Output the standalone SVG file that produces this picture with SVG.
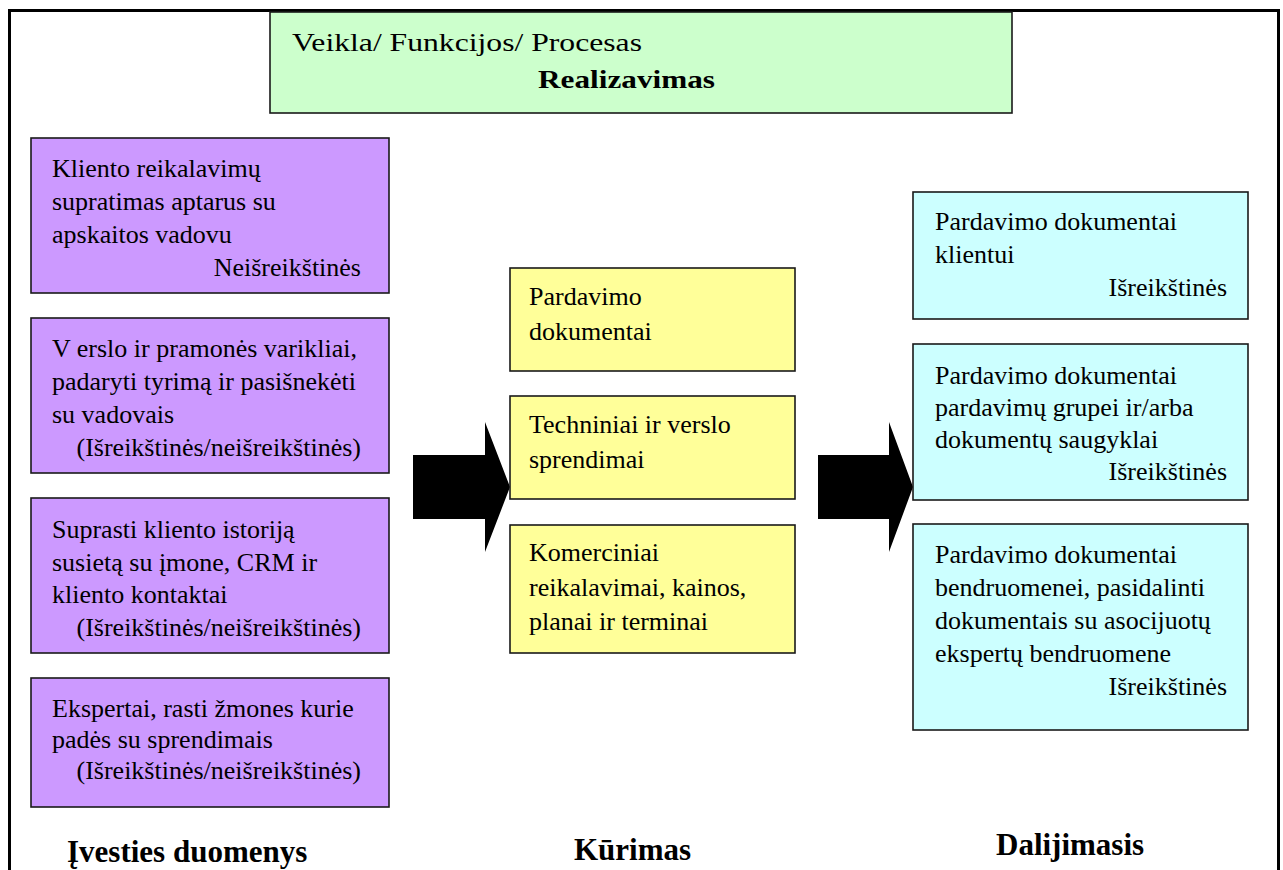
<svg xmlns="http://www.w3.org/2000/svg" width="1283" height="870" viewBox="0 0 1283 870">
  <style>
    .box { stroke: #1a1a1a; stroke-width: 1.6; }
    .green { fill: #CCFFCC; }
    .purple { fill: #CC99FF; }
    .yellow { fill: #FFFF99; }
    .cyan { fill: #CCFFFF; }
    .t { font-family: "Liberation Serif", "Times New Roman", serif; font-size: 26px; fill: #000; }
    .r { text-anchor: end; }
    .h { font-family: "Liberation Serif", "Times New Roman", serif; font-size: 31px; font-weight: bold; fill: #000; }
    .arrow { fill: #000; }
  </style>

  <rect x="0" y="0" width="1283" height="870" fill="#ffffff"/>

  <!-- outer frame, open at the bottom -->
  <path d="M9.5,872 V10.5 H1278.5 V872" fill="none" stroke="#000" stroke-width="3"/>

  <!-- block arrows between the columns -->
  <g id="connectors">
    <polygon class="arrow" points="413,455 485,455 485,422 510,487 485,552 485,519 413,519"/>
    <polygon class="arrow" points="818,455 889,455 889,422 913,487 889,552 889,519 818,519"/>
  </g>

  <!-- header -->
  <g id="header">
    <rect class="box green" x="270" y="12" width="742" height="101"/>
    <text class="t" x="292" y="51" font-size="28" textLength="350" lengthAdjust="spacingAndGlyphs">Veikla/ Funkcijos/ Procesas</text>
    <text class="t" x="538" y="88" font-size="28" font-weight="bold" textLength="177" lengthAdjust="spacingAndGlyphs">Realizavimas</text>
  </g>

  <!-- inputs column -->
  <g id="input-1">
    <rect class="box purple" x="31" y="138" width="358" height="155"/>
    <text class="t" x="52" y="177">Kliento reikalavimų</text>
    <text class="t" x="52" y="210">supratimas  aptarus su</text>
    <text class="t" x="52" y="243">apskaitos vadovu</text>
    <text class="t r" x="361" y="276">Neišreikštinės</text>
  </g>
  <g id="input-2">
    <rect class="box purple" x="31" y="318" width="358" height="155"/>
    <text class="t" x="52" y="357">V erslo ir pramonės varikliai,</text>
    <text class="t" x="52" y="390">padaryti tyrimą ir pasišnekėti</text>
    <text class="t" x="52" y="423">su vadovais</text>
    <text class="t r" x="361" y="456">(Išreikštinės/neišreikštinės)</text>
  </g>
  <g id="input-3">
    <rect class="box purple" x="31" y="498" width="358" height="155"/>
    <text class="t" x="52" y="538">Suprasti kliento istoriją</text>
    <text class="t" x="52" y="571">susietą su įmone, CRM ir</text>
    <text class="t" x="52" y="603">kliento kontaktai</text>
    <text class="t r" x="361" y="636">(Išreikštinės/neišreikštinės)</text>
  </g>
  <g id="input-4">
    <rect class="box purple" x="31" y="678" width="358" height="129"/>
    <text class="t" x="52" y="717">Ekspertai, rasti žmones kurie</text>
    <text class="t" x="52" y="748">padės su sprendimais</text>
    <text class="t r" x="361" y="779">(Išreikštinės/neišreikštinės)</text>
  </g>

  <!-- creation column -->
  <g id="create-1">
    <rect class="box yellow" x="510" y="268" width="285" height="103"/>
    <text class="t" x="529" y="305">Pardavimo</text>
    <text class="t" x="529" y="340">dokumentai</text>
  </g>
  <g id="create-2">
    <rect class="box yellow" x="510" y="396" width="285" height="103"/>
    <text class="t" x="529" y="433">Techniniai ir verslo</text>
    <text class="t" x="529" y="468">sprendimai</text>
  </g>
  <g id="create-3">
    <rect class="box yellow" x="510" y="525" width="285" height="128"/>
    <text class="t" x="529" y="561">Komerciniai</text>
    <text class="t" x="529" y="596">reikalavimai, kainos,</text>
    <text class="t" x="529" y="630">planai ir terminai</text>
  </g>

  <!-- sharing column -->
  <g id="share-1">
    <rect class="box cyan" x="913" y="192" width="335" height="127"/>
    <text class="t" x="935" y="230">Pardavimo dokumentai</text>
    <text class="t" x="935" y="263">klientui</text>
    <text class="t r" x="1227" y="296">Išreikštinės</text>
  </g>
  <g id="share-2">
    <rect class="box cyan" x="913" y="344" width="335" height="156"/>
    <text class="t" x="935" y="384">Pardavimo dokumentai</text>
    <text class="t" x="935" y="416">pardavimų grupei ir/arba</text>
    <text class="t" x="935" y="448">dokumentų saugyklai</text>
    <text class="t r" x="1227" y="480">Išreikštinės</text>
  </g>
  <g id="share-3">
    <rect class="box cyan" x="913" y="524" width="335" height="206"/>
    <text class="t" x="935" y="563">Pardavimo dokumentai</text>
    <text class="t" x="935" y="596">bendruomenei, pasidalinti</text>
    <text class="t" x="935" y="629">dokumentais su asocijuotų</text>
    <text class="t" x="935" y="662">ekspertų bendruomene</text>
    <text class="t r" x="1227" y="695">Išreikštinės</text>
  </g>

  <!-- column captions -->
  <g id="captions">
    <text class="h" x="67" y="862">Įvesties duomenys</text>
    <text class="h" x="574" y="860">Kūrimas</text>
    <text class="h" x="996" y="855">Dalijimasis</text>
  </g>
</svg>
